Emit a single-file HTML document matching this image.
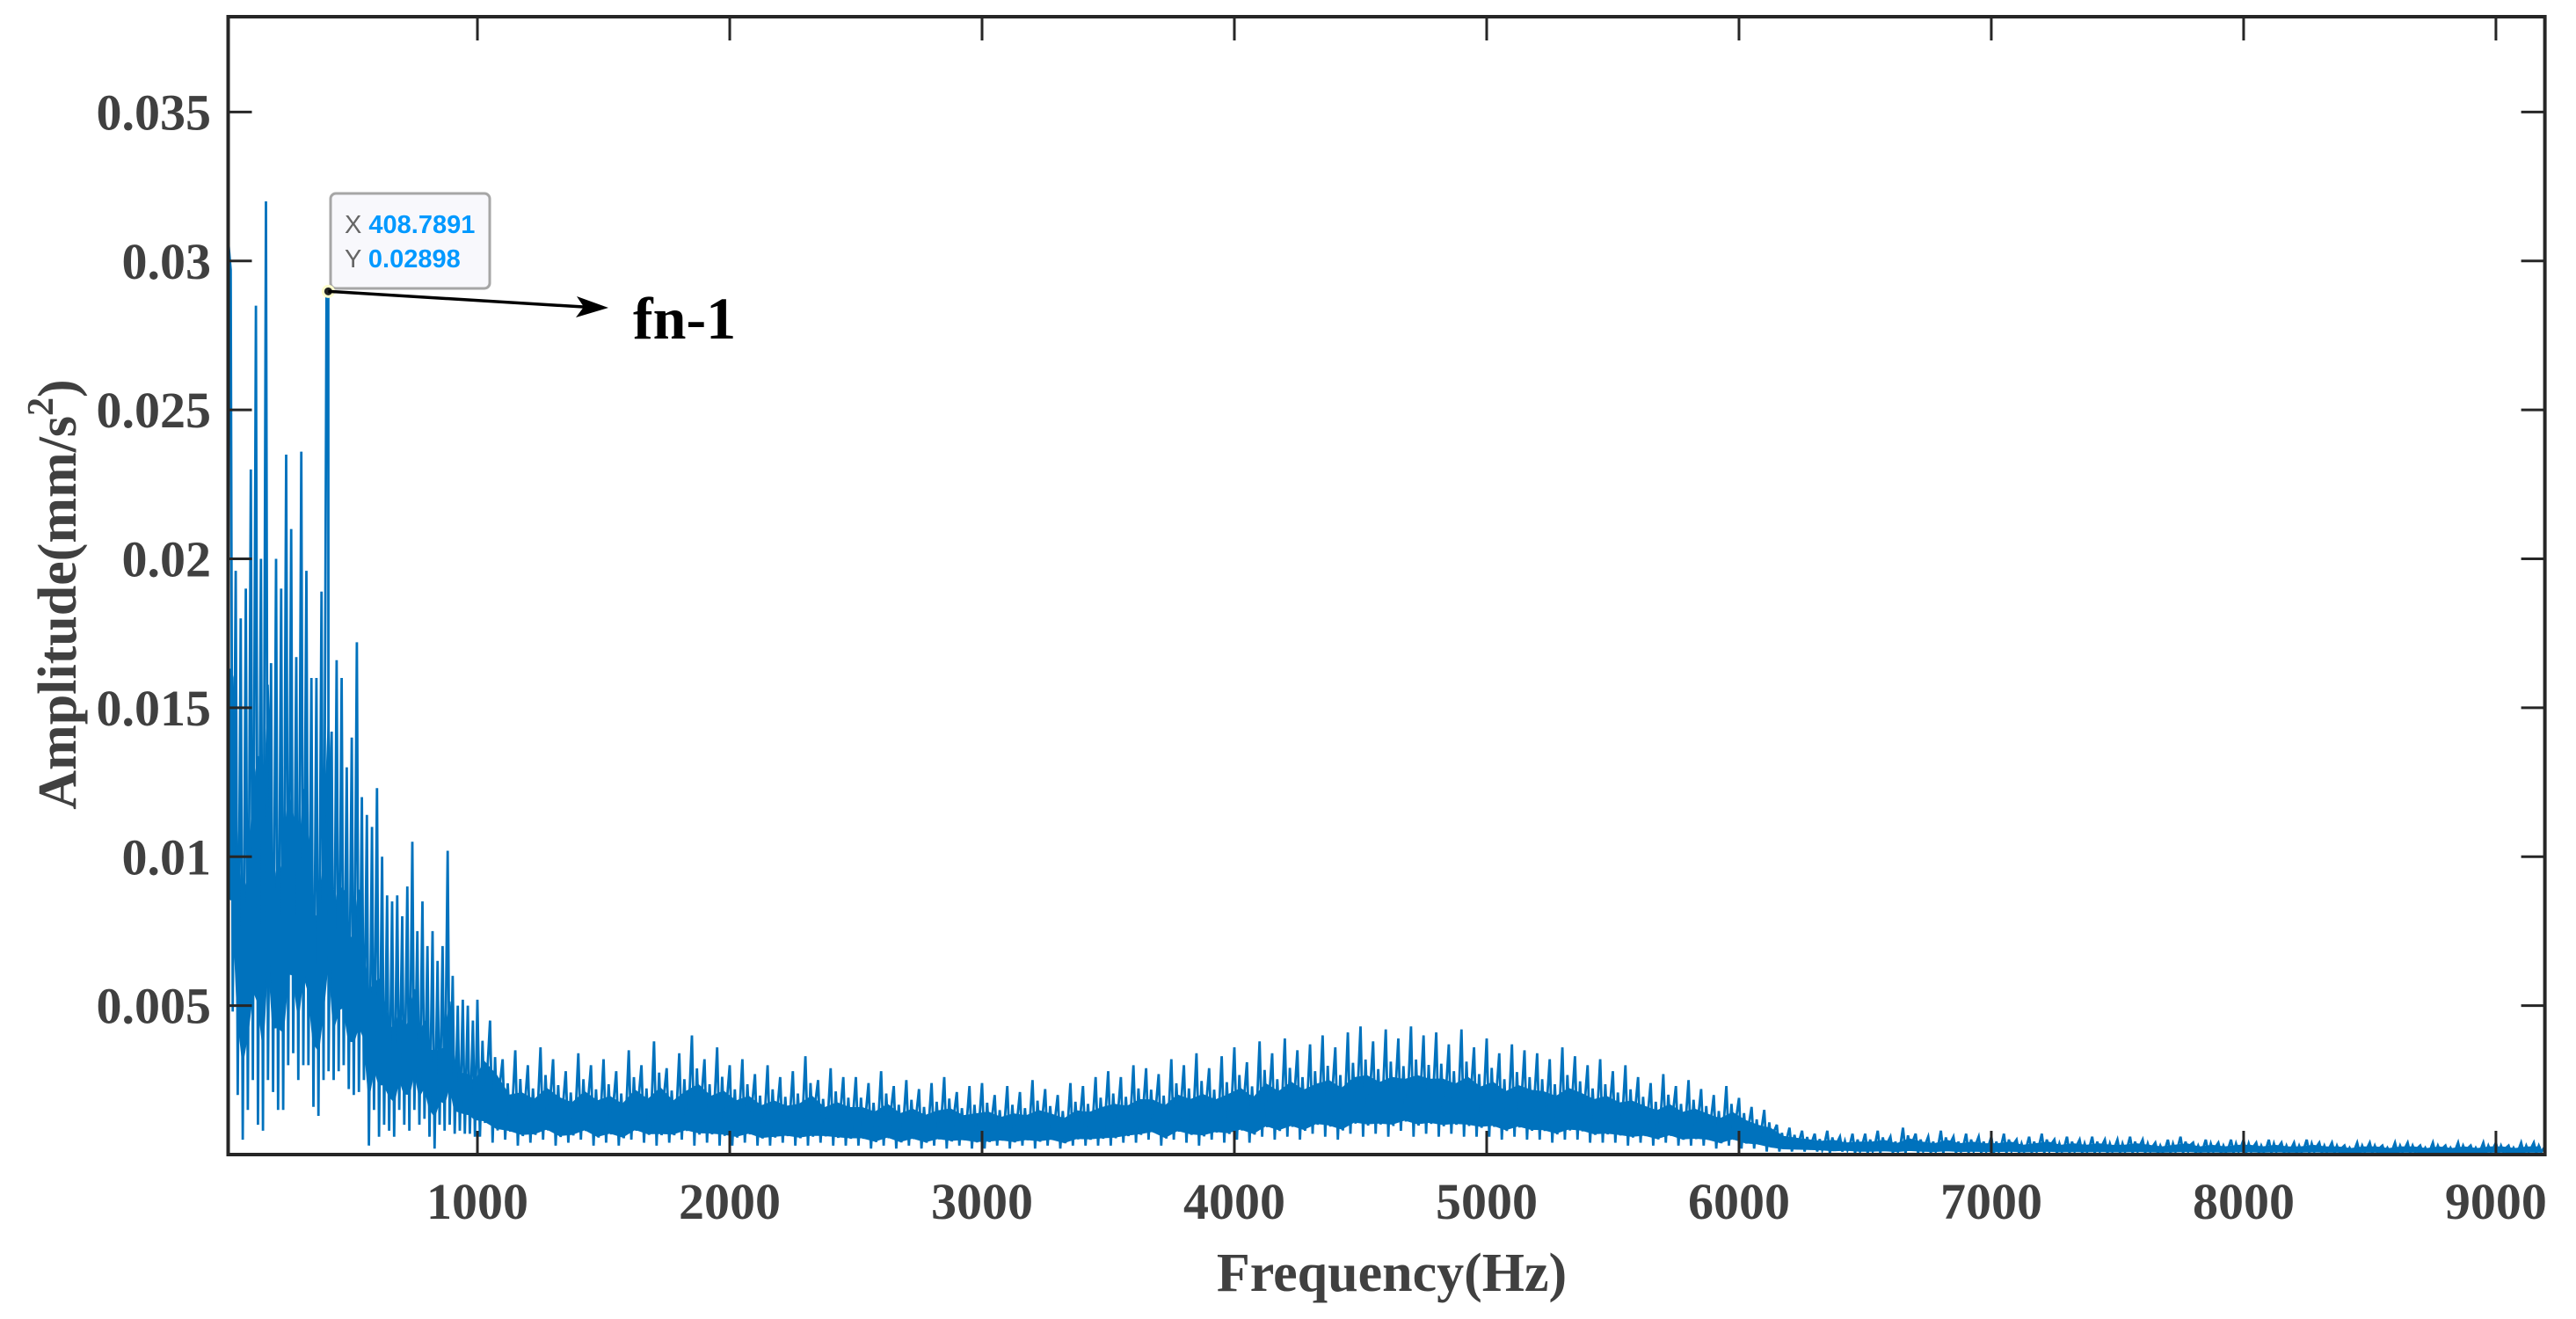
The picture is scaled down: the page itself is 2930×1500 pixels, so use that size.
<!DOCTYPE html>
<html><head><meta charset="utf-8">
<style>
html,body{margin:0;padding:0;background:#fff;}
svg{display:block;}
</style></head>
<body>
<svg id="chart" width="2930" height="1500" viewBox="0 0 2930 1500" xmlns="http://www.w3.org/2000/svg">
  <g id="series"></g>
  <g id="axes"></g>
  <text x="1583" y="1468" text-anchor="middle" font-family="Liberation Serif, serif" font-weight="bold" font-size="62" fill="#404040">Frequency(Hz)</text>
  <text transform="translate(86,676) rotate(-90)" text-anchor="middle" font-family="Liberation Serif, serif" font-weight="bold" font-size="62" fill="#404040">Amplitude(mm/s<tspan dy="-26" font-size="42">2</tspan><tspan dy="26">)</tspan></text>
  <g id="annot"></g>
</svg>
<script>
// ---- data (amplitudes in units of 0.001 mm/s^2) ----
const lowBinStart = 0;      // Hz
const lowBinWidth = 20;     // Hz
const lowMax = [30.5,29.7,19.6,18,19,23,28.5,20,32,16.5,20,19,23.5,21,16.7,23.6,19.6,16,16,18.9,29,14.2,16.6,16,13,14,17.2,12,11.4,11,12.3,10,8.7,8.5,8.7,8,9,10.5,7.5,8.5,7,7.5,6.5,7,10.2,6,5,5.2,5,4.5];
const lowMin = [4.7,4.8,2,0.5,1.5,2.5,1,0.8,2.5,2.1,1.5,1.5,3,3.4,2.5,3,3,1.6,1.3,2.5,2.8,2.5,2.8,3,2.2,2,2.1,2.5,0.3,1.5,0.6,1,0.8,0.6,1.5,1,0.8,1.5,1,1.2,0.6,0.2,1,0.8,1,0.7,0.8,0.7,0.7,0.6];
const highBinStart = 1000;
const highBinWidth = 50;
const highMax = [
5.2,4.5,3.2,3.5,3.0,3.6,3.2,2.8,3.4,3.0,
3.2,2.8,3.5,3.0,3.8,2.9,3.4,4.0,3.2,3.6,
3.0,3.2,2.7,3.0,2.6,2.8,3.3,2.5,2.9,2.6,
2.6,2.4,2.8,2.3,2.5,2.2,2.4,2.6,2.1,2.3,
2.4,2.0,2.3,2.1,2.5,2.2,2.0,2.4,2.3,2.6,
2.8,2.6,3.0,2.9,2.7,3.2,3.0,3.4,2.9,3.3,
3.6,3.1,3.8,3.4,3.9,3.5,3.7,4.0,3.6,4.1,
4.3,3.8,4.2,3.9,4.3,4.0,4.1,3.7,4.2,3.6,
3.9,3.4,3.7,3.5,3.4,3.2,3.6,3.3,3.0,3.2,
2.8,3.0,2.6,2.4,2.7,2.3,2.5,2.2,2.0,2.3,
1.9,1.6,1.5,1.0,0.9,0.8,0.7,0.8,0.6,0.7,
0.7,0.8,0.6,0.9,0.7,0.6,0.8,0.6,0.7,0.6,
0.6,0.7,0.5,0.6,0.7,0.5,0.6,0.5,0.6,0.5,
0.5,0.6,0.5,0.4,0.5,0.6,0.4,0.5,0.4,0.5,
0.5,0.4,0.5,0.4,0.4,0.5,0.4,0.4,0.3,0.4,
0.4,0.3,0.4,0.4,0.3,0.4,0.3,0.4,0.3,0.4,
0.4,0.3,0.4,0.4];
const highMin = [
0.6,0.4,0.5,0.3,0.4,0.5,0.3,0.4,0.5,0.3,
0.4,0.3,0.5,0.4,0.3,0.4,0.5,0.3,0.4,0.3,
0.3,0.4,0.3,0.3,0.4,0.3,0.3,0.4,0.3,0.3,
0.3,0.2,0.3,0.2,0.3,0.2,0.3,0.2,0.3,0.2,
0.2,0.3,0.2,0.3,0.2,0.3,0.2,0.3,0.3,0.3,
0.3,0.4,0.4,0.5,0.3,0.5,0.4,0.3,0.5,0.4,
0.5,0.4,0.6,0.5,0.6,0.5,0.7,0.6,0.5,0.7,
0.6,0.7,0.6,0.8,0.6,0.7,0.6,0.7,0.6,0.6,
0.6,0.5,0.6,0.5,0.5,0.4,0.5,0.5,0.4,0.4,
0.4,0.3,0.4,0.3,0.4,0.3,0.3,0.3,0.2,0.3,
0.2,0.2,0.1,0.1,0.1,0.1,0.1,0.05,0.1,0.05,
0.05,0.05,0.05,0.05,0.05,0.05,0.05,0.05,0.05,0.05,
0.05,0.05,0.05,0.05,0.05,0.05,0.05,0.05,0.05,0.05,
0.05,0.05,0.05,0.05,0.05,0.05,0.05,0.05,0.05,0.05,
0.05,0.05,0.05,0.05,0.05,0.05,0.05,0.05,0.05,0.05,
0.05,0.05,0.05,0.05,0.05,0.05,0.05,0.05,0.05,0.05,
0.05,0.05,0.05,0.05];
const xTicks = [1000,2000,3000,4000,5000,6000,7000,8000,9000];
const xTickLabels = ["1000","2000","3000","4000","5000","6000","7000","8000","9000"];
const yTicks = [0.005,0.01,0.015,0.02,0.025,0.03,0.035];
const yTickLabels = ["0.005","0.01","0.015","0.02","0.025","0.03","0.035"];
const tipX = 408.7891;
const tipY = 0.02898;

// ---- axes ----
const L=259.5, R=2894.6, T=19, B=1313;
const XMIN=12, XMAX=9194, YMIN=0, YMAX=0.0382;
const NS='http://www.w3.org/2000/svg';
function sx(f){return L+(f-XMIN)/(XMAX-XMIN)*(R-L);}
function sy(v){return B-(v-YMIN)/(YMAX-YMIN)*(B-T);}
function mk(tag,attrs,parent){const e=document.createElementNS(NS,tag);for(const k in attrs)e.setAttribute(k,attrs[k]);parent.appendChild(e);return e;}
function fmt(p){return p.map(q=>q[0].toFixed(1)+','+q[1].toFixed(1)).join(' ');}

const series=document.getElementById('series');

// dense core band (filled region where the noisy trace overlaps)
let up=[], lo=[];
for(let i=0;i<lowMax.length;i++){
  const f=Math.max(lowBinStart+i*lowBinWidth,XMIN)+lowBinWidth/2;
  const mx=lowMax[i]/1000, mn=lowMin[i]/1000;
  up.push([sx(f),sy(mn+(mx-mn)*0.45)]);
  lo.push([sx(f),sy(mn+(mx-mn)*0.15)]);
}
for(let i=0;i<highMax.length;i++){
  const f=highBinStart+i*highBinWidth+highBinWidth/2;
  const mx=highMax[i]/1000, mn=highMin[i]/1000;
  up.push([sx(f),sy(mn+(mx-mn)*0.55)]);
  lo.push([sx(f),sy(mn+(mx-mn)*0.12)]);
}
const band=mk('polygon',{points:fmt(up.concat(lo.reverse())),fill:'#0072BD',stroke:'#0072BD','stroke-width':2},series);



let pts=[];
pts.push([sx(XMIN),sy(lowMax[0]/1000)]);
for(let i=0;i<lowMax.length;i++){
  const f=lowBinStart+i*lowBinWidth;
  pts.push([sx(Math.max(f,XMIN)+2),sy(lowMax[i]/1000)]);
  pts.push([sx(f+lowBinWidth*0.5),sy(lowMin[i]/1000)]);
}
pts.push([sx(tipX),sy(tipY)]);
pts.sort((a,b)=>a[0]-b[0]);
for(let i=0;i<highMax.length;i++){
  const f=highBinStart+i*highBinWidth;
  const mx=highMax[i]/1000, mn=highMin[i]/1000;
  pts.push([sx(f),sy(mx)]);
  pts.push([sx(f+highBinWidth*0.2),sy(mn)]);
  pts.push([sx(f+highBinWidth*0.4),sy(mn+(mx-mn)*0.7)]);
  pts.push([sx(f+highBinWidth*0.6),sy(mn+(mx-mn)*0.1)]);
  pts.push([sx(f+highBinWidth*0.8),sy(mn+(mx-mn)*0.5)]);
}
const line=mk('polyline',{points:fmt(pts),fill:'none',stroke:'#0072BD','stroke-width':2.8,'stroke-linejoin':'miter'},series);


const clip=mk('clipPath',{id:'cp'},document.getElementById('chart'));
mk('rect',{x:L,y:T,width:R-L,height:B-T},clip);
series.setAttribute('clip-path','url(#cp)');

// axes box & ticks
const axes=document.getElementById('axes');
const box=mk('rect',{x:L,y:T,width:R-L,height:B-T,fill:'none',stroke:'#262626','stroke-width':4},axes);


xTicks.forEach((t,i)=>{
  const x=sx(t);
  mk('line',{x1:x,y1:B,x2:x,y2:B-27,stroke:'#262626','stroke-width':3},axes);
  mk('line',{x1:x,y1:T,x2:x,y2:T+27,stroke:'#262626','stroke-width':3},axes);
  const tx=mk('text',{x:x,y:1386,'text-anchor':'middle','font-family':'Liberation Serif, serif','font-weight':'bold','font-size':58,fill:'#404040'},axes);
  tx.textContent=xTickLabels[i];
  
  
});
yTicks.forEach((t,i)=>{
  const y=sy(t);
  mk('line',{x1:L,y1:y,x2:L+27,y2:y,stroke:'#262626','stroke-width':3},axes);
  mk('line',{x1:R,y1:y,x2:R-27,y2:y,stroke:'#262626','stroke-width':3},axes);
  const ty=mk('text',{x:240,y:y+20,'text-anchor':'end','font-family':'Liberation Serif, serif','font-weight':'bold','font-size':58,fill:'#404040'},axes);
  ty.textContent=yTickLabels[i];
  
  
});

// datatip + arrow
const an=document.getElementById('annot');
const mxp=sx(tipX), myp=sy(tipY);
const tipBox=mk('rect',{x:376,y:220,width:181,height:108,rx:6,fill:'#f8f8fc',stroke:'#a6a6a6','stroke-width':3},an);


const t1=mk('text',{x:392,y:265,'font-family':'Liberation Sans, sans-serif','font-size':29,fill:'#666'},an);
t1.innerHTML='X <tspan fill="#0099ff" font-weight="bold">'+tipX.toFixed(4)+'</tspan>';


const t2=mk('text',{x:392,y:304,'font-family':'Liberation Sans, sans-serif','font-size':29,fill:'#666'},an);
t2.innerHTML='Y <tspan fill="#0099ff" font-weight="bold">'+tipY.toFixed(5)+'</tspan>';


const dot=mk('circle',{cx:mxp,cy:myp,r:6,fill:'#222',stroke:'#ffffcc','stroke-width':3},an);


const arrow=mk('line',{x1:mxp,y1:myp,x2:680,y2:350,stroke:'#000','stroke-width':3.5},an);


const head=mk('polygon',{points:'692,350 656,337 664,349 655,361',fill:'#000'},an);


const lab=mk('text',{x:720,y:385,'font-family':'Liberation Serif, serif','font-weight':'bold','font-size':68,fill:'#000'},an);
lab.textContent='fn-1';


</script>
</body></html>
